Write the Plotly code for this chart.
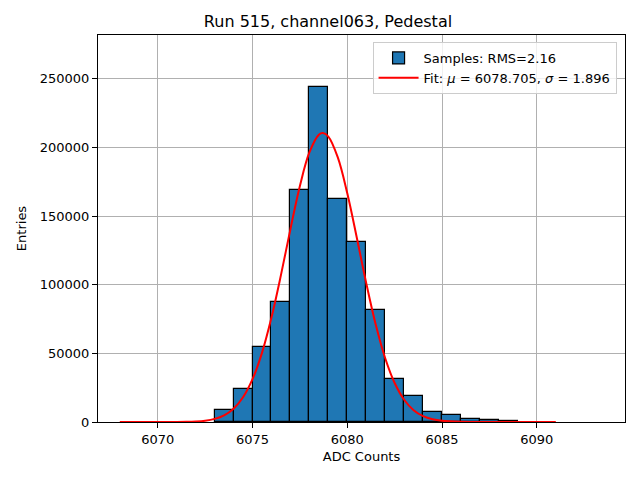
import plotly.graph_objects as go

# histogram bins (left edges, width 1) and entries
bin_left = [6073, 6074, 6075, 6076, 6077, 6078, 6079, 6080, 6081, 6082,
            6083, 6084, 6085, 6086, 6087, 6088]
entries = [9000, 24200, 54900, 87200, 169000, 244000, 162800, 131000, 81300, 31200,
           19000, 7500, 4900, 2100, 1300, 500]

# fit curve
fit_x = [6068, 6069, 6070, 6071, 6071.5, 6072, 6072.5, 6073, 6073.5, 6074, 6074.5,
         6075, 6075.5, 6076, 6076.5, 6077, 6077.5, 6078, 6078.5, 6078.705, 6079,
         6079.5, 6080, 6080.5, 6081, 6081.5, 6082, 6082.5, 6083, 6083.5, 6084,
         6084.5, 6085, 6086, 6087, 6088, 6089, 6090, 6091]
fit_y = [0, 0, 5, 55, 154, 405, 990, 2280, 4860, 9700, 18000,
         31200, 50400, 76100, 107000, 140500, 172000, 196400, 209300, 210500, 208000,
         192800, 166700, 134500, 101200, 71000, 46500, 28400, 16200, 8600, 4260,
         1970, 850, 130, 15, 1, 0, 0, 0]

bin_center = [b + 0.5 for b in bin_left]

fig = go.Figure()
fig.add_trace(go.Bar(x=bin_center, y=entries, width=1,
                     marker=dict(color='#1f77b4', line=dict(color='black', width=1.2)),
                     name='Samples: RMS=2.16'))
fig.add_trace(go.Scatter(x=fit_x, y=fit_y, mode='lines',
                         line=dict(color='red', width=2, shape='spline'),
                         name='Fit: <i>μ</i> = 6078.705, <i>σ</i> = 1.896'))

axis_style = dict(showline=True, linecolor='black', linewidth=1, mirror=True,
                  showgrid=True, gridcolor='#b0b0b0', gridwidth=0.8,
                  ticks='outside', ticklen=5, tickcolor='black',
                  tickfont=dict(size=13, color='black'), zeroline=False)

fig.update_layout(
    width=640, height=480,
    template='plotly_white',
    font=dict(family='DejaVu Sans', color='black'),
    title=dict(text='Run 515, channel063, Pedestal', x=0.5, xanchor='center',
               y=0.973, yanchor='middle', font=dict(size=16)),
    margin=dict(l=90, r=23, t=27, b=66),
    bargap=0,
    plot_bgcolor='white', paper_bgcolor='white',
    legend=dict(x=0.984, y=0.982, xanchor='right', yanchor='top',
                bgcolor='rgba(255,255,255,0.8)', bordercolor='#cccccc', borderwidth=1,
                font=dict(size=13), itemwidth=40, tracegroupgap=4),
)
fig.update_xaxes(range=[6066.85, 6094.65], tickvals=[6070, 6075, 6080, 6085, 6090],
                 title=dict(text='ADC Counts', font=dict(size=13), standoff=6), **axis_style)
fig.update_yaxes(range=[0, 282000], tickvals=[0, 50000, 100000, 150000, 200000, 250000],
                 tickformat='d',
                 title=dict(text='Entries', font=dict(size=13), standoff=10), **axis_style)

fig.write_html("out.html")
